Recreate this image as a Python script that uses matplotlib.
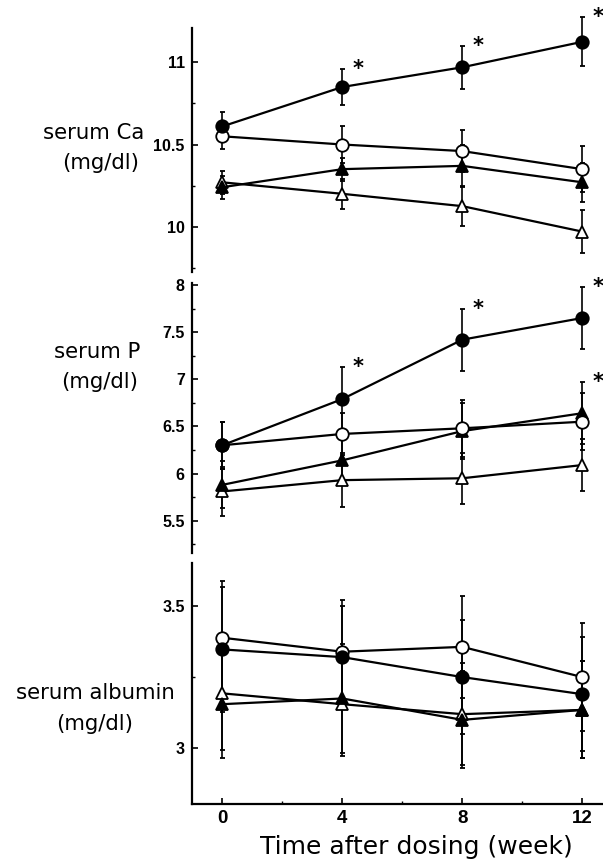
import matplotlib
matplotlib.use("Agg")
import matplotlib.pyplot as plt
from matplotlib.ticker import MultipleLocator

weeks = [0, 4, 8, 12]

# serum Ca
ca_fc = [10.61, 10.85, 10.97, 11.125]; ca_fc_sd = [0.09, 0.11, 0.13, 0.15]
ca_oc = [10.55, 10.50, 10.46, 10.35];  ca_oc_sd = [0.08, 0.11, 0.13, 0.14]
ca_ft = [10.24, 10.35, 10.37, 10.27];  ca_ft_sd = [0.07, 0.07, 0.13, 0.12]
ca_ot = [10.27, 10.20, 10.125, 9.97];  ca_ot_sd = [0.07, 0.09, 0.12, 0.13]

# serum P
p_fc = [6.30, 6.79, 7.42, 7.65]; p_fc_sd = [0.25, 0.34, 0.33, 0.33]
p_oc = [6.30, 6.42, 6.48, 6.55]; p_oc_sd = [0.25, 0.22, 0.30, 0.30]
p_ft = [5.88, 6.14, 6.45, 6.64]; p_ft_sd = [0.25, 0.25, 0.30, 0.33]
p_ot = [5.81, 5.93, 5.95, 6.09]; p_ot_sd = [0.26, 0.29, 0.27, 0.28]

# serum albumin
al_fc = [3.347, 3.32, 3.25, 3.19];   al_fc_sd = [0.22, 0.18, 0.20, 0.20]
al_oc = [3.388, 3.339, 3.356, 3.25]; al_oc_sd = [0.20, 0.18, 0.18, 0.19]
al_ft = [3.155, 3.175, 3.10, 3.135]; al_ft_sd = [0.19, 0.19, 0.17, 0.17]
al_ot = [3.193, 3.155, 3.12, 3.135]; al_ot_sd = [0.20, 0.18, 0.18, 0.17]

# significance stars: (panel, series, week index)
stars = [("ca", "fc", 1), ("ca", "fc", 2), ("ca", "fc", 3),
         ("p", "fc", 1), ("p", "fc", 2), ("p", "fc", 3), ("p", "ft", 3)]

panels = {
    "ca": {"fc": (ca_fc, ca_fc_sd), "oc": (ca_oc, ca_oc_sd),
           "ft": (ca_ft, ca_ft_sd), "ot": (ca_ot, ca_ot_sd)},
    "p": {"fc": (p_fc, p_fc_sd), "oc": (p_oc, p_oc_sd),
          "ft": (p_ft, p_ft_sd), "ot": (p_ot, p_ot_sd)},
    "al": {"fc": (al_fc, al_fc_sd), "oc": (al_oc, al_oc_sd),
           "ft": (al_ft, al_ft_sd), "ot": (al_ot, al_ot_sd)},
}
labels = {"ca": ("serum Ca", "(mg/dl)"), "p": ("serum P", "(mg/dl)"),
          "al": ("serum albumin", "(mg/dl)")}
yticks = {"ca": [10, 10.5, 11], "p": [5.5, 6, 6.5, 7, 7.5, 8], "al": [3, 3.5]}
yticklabels = {"ca": ["10", "10.5", "11"],
               "p": ["5.5", "6", "6.5", "7", "7.5", "8"],
               "al": ["3", "3.5"]}
ylims = {"ca": (9.726, 11.209), "p": (5.154, 8.018), "al": (2.805, 3.649)}

W, H = 603, 859
fig = plt.figure(figsize=(W / 100, H / 100), dpi=100)
left_px = 191.7
boxes = {"ca": (28, 271.7), "p": (283.3, 553.3), "al": (563.3, 804)}
label_pos = {"ca": ((94, 133.3), (101, 163.3)),
             "p": ((96.7, 351.7), (100, 381.7)),
             "al": ((95, 693.3), (95, 724))}

styles = {
    "fc": dict(marker="o", mfc="black", ms=9),
    "oc": dict(marker="o", mfc="white", ms=9),
    "ft": dict(marker="^", mfc="black", ms=9),
    "ot": dict(marker="^", mfc="white", ms=9),
}
order = ["ot", "ft", "oc", "fc"]

ytickfont = dict(family="Liberation Sans", weight="bold", size=11.5)
xtickfont = dict(family="Liberation Sans", weight="bold", size=13.5)

for key in ["ca", "p", "al"]:
    t, b = boxes[key]
    ax = fig.add_axes([left_px / W, 1 - b / H, 1 - left_px / W, (b - t) / H])
    ax.set_xlim(-1.02, 12.69)
    ax.set_ylim(*ylims[key])
    for s in order:
        m, sd = panels[key][s]
        ax.errorbar(weeks, m, yerr=sd, color="black", lw=1.6,
                    elinewidth=1.2, capsize=1.8, capthick=1.4,
                    mec="black", mew=1.3, clip_on=False, zorder=3,
                    **styles[s])
    for (pk, s, i) in stars:
        if pk != key:
            continue
        m, sd = panels[key][s]
        ax.annotate("*", xy=(weeks[i], m[i] + sd[i]), xytext=(11, 0),
                    textcoords="offset points", ha="center", va="center",
                    fontsize=15, fontweight="bold", family="DejaVu Sans",
                    annotation_clip=False)
    ax.spines["top"].set_visible(False)
    ax.spines["right"].set_visible(False)
    ax.spines["left"].set_linewidth(1.6)
    ax.spines["bottom"].set_linewidth(1.6)
    ax.set_yticks(yticks[key])
    ax.set_yticklabels(yticklabels[key], fontdict=ytickfont)
    ax.yaxis.set_minor_locator(MultipleLocator(0.25))
    ax.tick_params(axis="y", which="major", direction="in", length=4,
                   width=1.2, pad=5)
    ax.tick_params(axis="y", which="minor", direction="in", length=2,
                   width=1.0)
    if key != "al":
        ax.spines["bottom"].set_visible(False)
        ax.set_xticks([])
    else:
        ax.set_xticks(weeks)
        ax.set_xticklabels([str(w) for w in weeks], fontdict=xtickfont)
        ax.xaxis.set_minor_locator(MultipleLocator(2))
        ax.tick_params(axis="x", which="major", direction="in", length=4,
                       width=1.2, pad=4)
        ax.tick_params(axis="x", which="minor", direction="in", length=2,
                       width=1.0)
    ax.patch.set_alpha(0)
    (x1, y1), (x2, y2) = label_pos[key]
    fig.text(x1 / W, 1 - y1 / H, labels[key][0], ha="center", va="center",
             fontsize=15.3, family="DejaVu Sans")
    fig.text(x2 / W, 1 - y2 / H, labels[key][1], ha="center", va="center",
             fontsize=15.3, family="DejaVu Sans")

fig.text(416 / W, 1 - 846.7 / H, "Time after dosing (week)", ha="center",
         va="center", fontsize=18, family="DejaVu Sans")

fig.savefig("out.png", dpi=100)
